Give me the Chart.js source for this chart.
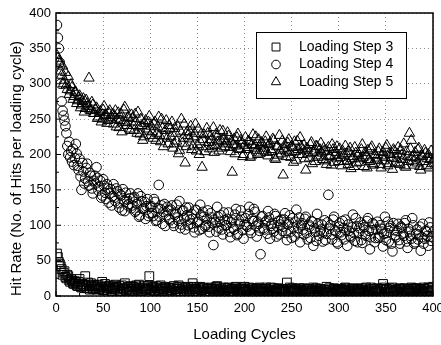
<!DOCTYPE html>
<html>
<head>
<meta charset="utf-8">
<title>Hit Rate vs Loading Cycles</title>
<script src="https://cdn.jsdelivr.net/npm/chart.js"></script>
<style>
  body { margin: 0; background: #fff; }
  canvas { display: block; }
</style>
</head>
<body>
<canvas id="hit-rate-chart" width="441" height="345"></canvas>
<script>
// hit rates, one value per loading cycle (1 ... 400), 20 cycles per row
const firstCycle = 1;
const cycleStep = 1;

const step3 = [
    60, 55, 48, 45, 42, 38, 30, 33, 35, 27, 25, 30, 28, 22, 20, 24, 22, 18, 17, 21,
    19, 15, 14, 20, 24, 13, 12, 17, 16, 11, 28, 14, 11, 19, 15, 9, 18, 13, 10, 16,
    14, 11, 9, 15, 16, 10, 12, 13, 20, 8, 8, 17, 13, 9, 11, 14, 15, 10, 7, 12,
    12, 9, 16, 13, 9, 11, 14, 7, 6, 15, 11, 10, 18, 8, 8, 12, 13, 6, 10, 14,
    7, 13, 12, 8, 15, 10, 9, 16, 11, 7, 6, 12, 14, 9, 8, 11, 10, 14, 28, 8,
    9, 11, 13, 7, 6, 14, 11, 9, 8, 12, 15, 6, 10, 10, 7, 13, 12, 8, 5, 11,
    11, 8, 8, 12, 14, 6, 6, 10, 10, 15, 13, 7, 7, 11, 9, 5, 12, 9, 5, 13,
    9, 7, 12, 10, 18, 13, 7, 9, 10, 5, 6, 11, 13, 8, 8, 12, 11, 6, 5, 10,
    10, 6, 7, 11, 12, 8, 5, 10, 9, 13, 14, 7, 6, 9, 11, 5, 8, 12, 4, 8,
    9, 11, 12, 7, 6, 9, 10, 5, 7, 12, 13, 8, 5, 10, 8, 6, 11, 9, 6, 13,
    10, 6, 7, 9, 12, 8, 4, 11, 9, 5, 6, 10, 11, 7, 8, 12, 5, 9, 10, 6,
    7, 10, 12, 6, 5, 8, 9, 12, 6, 7, 11, 5, 8, 9, 4, 11, 10, 6, 7, 8,
    9, 5, 6, 10, 19, 7, 8, 12, 5, 9, 11, 6, 7, 8, 10, 4, 4, 11, 9, 7,
    6, 8, 11, 5, 8, 10, 5, 7, 10, 4, 7, 9, 12, 6, 4, 11, 9, 7, 6, 10,
    10, 7, 5, 9, 8, 4, 13, 6, 6, 11, 9, 5, 4, 8, 11, 10, 7, 6, 8, 9,
    5, 9, 10, 6, 7, 11, 12, 8, 4, 7, 9, 5, 6, 10, 11, 7, 8, 4, 5, 9,
    10, 7, 6, 11, 9, 5, 4, 9, 12, 6, 7, 8, 5, 12, 10, 4, 8, 10, 6, 7,
    11, 8, 5, 10, 9, 6, 17, 12, 6, 9, 10, 5, 4, 11, 8, 7, 12, 6, 7, 9,
    9, 6, 5, 10, 11, 8, 6, 4, 8, 11, 4, 7, 10, 9, 7, 5, 12, 8, 5, 11,
    8, 10, 11, 7, 6, 9, 9, 5, 4, 12, 10, 6, 7, 8, 12, 11, 5, 7, 9, 13
];

const step4 = [
    383, 365, 350, 330, 300, 275, 262, 255, 248, 240, 230, 212, 200, 218, 196, 205, 190, 208, 185, 195,
    215, 201, 184, 178, 194, 169, 150, 188, 176, 159, 166, 181, 187, 162, 156, 174, 170, 152, 145, 163,
    170, 159, 182, 167, 149, 155, 163, 139, 142, 165, 156, 146, 137, 158, 152, 132, 145, 151, 128, 141,
    158, 139, 134, 152, 148, 131, 125, 144, 142, 121, 151, 135, 120, 146, 137, 128, 130, 138, 145, 124,
    128, 138, 140, 119, 121, 130, 145, 112, 114, 141, 134, 123, 124, 133, 109, 127, 137, 113, 117, 126,
    127, 117, 113, 137, 133, 106, 107, 124, 157, 112, 123, 128, 102, 119, 130, 99, 114, 126, 121, 109,
    107, 122, 128, 103, 99, 115, 118, 129, 111, 106, 134, 96, 101, 120, 121, 110, 94, 125, 114, 100,
    125, 108, 102, 116, 109, 97, 90, 122, 121, 104, 105, 93, 129, 114, 95, 119, 112, 98, 100, 109,
    121, 98, 90, 117, 111, 103, 72, 108, 104, 91, 126, 112, 96, 105, 114, 94, 87, 118, 107, 100,
    100, 109, 118, 91, 83, 104, 108, 97, 94, 115, 123, 86, 88, 107, 102, 121, 112, 93, 81, 101,
    110, 100, 98, 116, 126, 93, 89, 109, 106, 123, 119, 99, 84, 105, 102, 92, 59, 112, 113, 96,
    94, 104, 106, 88, 120, 111, 81, 99, 102, 95, 91, 116, 113, 84, 98, 106, 87, 101, 108, 92,
    98, 108, 117, 89, 79, 101, 104, 114, 91, 82, 110, 97, 84, 105, 122, 90, 96, 111, 76, 100,
    103, 94, 87, 109, 112, 89, 80, 101, 98, 82, 106, 105, 71, 96, 91, 78, 116, 102, 85, 92,
    94, 101, 77, 90, 107, 79, 88, 104, 143, 95, 100, 87, 80, 108, 112, 93, 91, 76, 74, 98,
    103, 90, 86, 106, 96, 80, 108, 93, 71, 101, 92, 85, 83, 97, 115, 89, 78, 110, 99, 76,
    89, 96, 104, 79, 75, 100, 97, 87, 85, 106, 110, 92, 66, 83, 93, 103, 101, 76, 82, 94,
    105, 82, 84, 100, 95, 91, 70, 88, 112, 79, 89, 105, 77, 96, 99, 74, 63, 103, 93, 86,
    83, 92, 102, 79, 74, 98, 96, 88, 85, 103, 107, 77, 68, 95, 91, 85, 81, 110, 100, 74,
    76, 88, 94, 80, 87, 98, 64, 83, 102, 74, 81, 92, 91, 85, 71, 104, 97, 78, 84, 90
];

const step5 = [
    340, 336, 332, 328, 318, 312, 325, 300, 305, 316, 298, 292, 310, 285, 290, 299, 295, 278, 282, 288,
    288, 272, 276, 281, 283, 266, 270, 275, 279, 260, 265, 277, 272, 268, 308, 263, 262, 274, 270, 258,
    258, 264, 266, 251, 253, 259, 261, 246, 250, 263, 268, 255, 256, 244, 248, 259, 262, 250, 252, 257,
    243, 255, 262, 239, 250, 259, 238, 248, 257, 232, 246, 263, 267, 245, 241, 252, 253, 236, 234, 256,
    251, 241, 234, 257, 246, 230, 260, 239, 229, 250, 241, 220, 225, 244, 248, 236, 233, 246, 254, 227,
    240, 232, 223, 243, 246, 220, 230, 239, 253, 227, 218, 250, 237, 211, 226, 234, 248, 223, 215, 241,
    236, 225, 246, 209, 215, 237, 230, 219, 240, 201, 206, 233, 250, 216, 223, 243, 188, 211, 232, 227,
    222, 232, 240, 207, 212, 225, 230, 243, 205, 214, 236, 200, 218, 229, 182, 221, 228, 204, 211, 237,
    230, 217, 208, 226, 221, 212, 238, 203, 213, 229, 225, 218, 205, 234, 220, 209, 233, 222, 211, 215,
    218, 231, 226, 210, 204, 219, 175, 214, 222, 201, 212, 224, 229, 208, 207, 220, 216, 197, 200, 213,
    224, 207, 210, 219, 218, 196, 198, 214, 228, 209, 213, 225, 206, 200, 221, 212, 202, 217, 215, 205,
    209, 218, 225, 203, 198, 214, 216, 207, 204, 222, 220, 195, 193, 211, 212, 199, 227, 206, 201, 219,
    171, 208, 214, 197, 205, 216, 221, 203, 196, 212, 210, 189, 218, 204, 192, 219, 207, 200, 224, 211,
    200, 206, 213, 194, 178, 209, 208, 201, 195, 214, 217, 187, 203, 205, 190, 212, 211, 196, 198, 207,
    216, 202, 193, 209, 205, 191, 186, 204, 210, 197, 198, 185, 214, 207, 189, 199, 203, 211, 195, 190,
    208, 196, 184, 205, 199, 190, 212, 201, 191, 186, 204, 209, 180, 194, 197, 183, 210, 202, 188, 198,
    201, 189, 194, 207, 214, 196, 183, 203, 198, 181, 206, 193, 190, 208, 211, 187, 185, 200, 199, 195,
    192, 204, 208, 186, 181, 198, 203, 191, 196, 209, 213, 184, 187, 202, 200, 195, 179, 207, 205, 188,
    194, 201, 210, 188, 186, 206, 199, 193, 215, 184, 182, 204, 197, 190, 230, 208, 220, 196, 191, 185,
    203, 195, 188, 207, 209, 183, 178, 199, 197, 190, 206, 202, 184, 194, 200, 181, 193, 205, 187, 192
];

const seriesLabels = ["Loading Step 3", "Loading Step 4", "Loading Step 5"];
const seriesMarkers = ["rect", "circle", "triangle"];
const markerRadius = [6.2, 4.8, 6];

const axisMin = 0;
const axisMax = 400;
const majorStep = 50;
const minorStep = 25;

const fontFamily = "'Liberation Sans', Arial, Helvetica, sans-serif";

function toPoints(values) {
    return values.map(function (y, i) {
        return { x: firstCycle + i * cycleStep, y: y };
    });
}

// small inward ticks plus the solid box round the plot
const plotFrame = {
    id: 'plotFrame',
    afterDatasetsDraw: function (chart) {
        const ctx = chart.ctx;
        const a = chart.chartArea;
        const xs = chart.scales.x;
        const ys = chart.scales.y;
        ctx.save();
        ctx.strokeStyle = '#000';
        ctx.lineWidth = 1;
        ctx.beginPath();
        for (let v = axisMin; v <= axisMax; v += minorStep) {
            const len = v % majorStep === 0 ? 5 : 3;
            const px = xs.getPixelForValue(v);
            ctx.moveTo(px, a.bottom);
            ctx.lineTo(px, a.bottom - len);
            const py = ys.getPixelForValue(v);
            ctx.moveTo(a.left, py);
            ctx.lineTo(a.left + len, py);
        }
        ctx.stroke();
        ctx.lineWidth = 1.5;
        ctx.strokeRect(a.left, a.top, a.right - a.left, a.bottom - a.top);
        ctx.restore();
    }
};

// legend in a box at the top right of the plot
const boxedLegend = {
    id: 'boxedLegend',
    afterDraw: function (chart) {
        const ctx = chart.ctx;
        const a = chart.chartArea;
        const left = a.right - 177;
        const top = a.top + 19;
        const w = 150;
        const h = 66;
        ctx.save();
        ctx.fillStyle = '#fff';
        ctx.fillRect(left, top, w, h);
        ctx.strokeStyle = '#000';
        ctx.lineWidth = 1;
        ctx.strokeRect(left + 0.5, top + 0.5, w, h);
        ctx.font = '14px ' + fontFamily;
        ctx.textBaseline = 'middle';
        chart.data.datasets.forEach(function (ds, i) {
            const y = top + 15 + i * 17.5;
            ctx.fillStyle = 'rgba(0,0,0,0)';
            ctx.strokeStyle = '#000';
            ctx.lineWidth = 1;
            Chart.helpers.drawPoint(ctx, {
                pointStyle: ds.pointStyle,
                radius: ds.pointRadius * 0.9,
                rotation: 0,
                borderWidth: 1
            }, left + 20, y);
            ctx.fillStyle = '#000';
            ctx.fillText(ds.label, left + 43, y);
        });
        ctx.restore();
    }
};

const allSeries = [step3, step4, step5];

new Chart(document.getElementById("hit-rate-chart"), {
    type: 'scatter',
    data: {
        datasets: allSeries.map(function (values, i) {
            return {
                label: seriesLabels[i],
                data: toPoints(values),
                pointStyle: seriesMarkers[i],
                pointRadius: markerRadius[i],
                pointBorderWidth: 1,
                borderColor: '#000',
                backgroundColor: 'rgba(0,0,0,0)',
                showLine: false
            };
        })
    },
    options: {
        responsive: false,
        animation: false,
        devicePixelRatio: 1,
        layout: {
            padding: { top: 13, right: 8, left: 0, bottom: 0 }
        },
        plugins: {
            legend: { display: false },
            tooltip: { enabled: false }
        },
        scales: {
            x: {
                type: 'linear',
                min: axisMin,
                max: axisMax,
                border: { display: false, dash: [1, 3] },
                grid: {
                    color: '#8c8c8c',
                    drawTicks: false,
                    lineWidth: 1
                },
                ticks: {
                    stepSize: majorStep,
                    maxRotation: 0,
                    autoSkip: false,
                    padding: 5,
                    color: '#000',
                    font: { family: fontFamily, size: 13 }
                },
                title: {
                    display: true,
                    text: 'Loading Cycles',
                    color: '#000',
                    padding: { top: 0, bottom: 1 },
                    font: { family: fontFamily, size: 15 }
                },
                afterFit: function (s) {
                    s.height = 49;
                    s.paddingLeft = 0;
                    s.paddingRight = 0;
                }
            },
            y: {
                type: 'linear',
                min: axisMin,
                max: axisMax,
                border: { display: false, dash: [1, 3] },
                grid: {
                    color: '#8c8c8c',
                    drawTicks: false,
                    lineWidth: 1
                },
                ticks: {
                    stepSize: majorStep,
                    autoSkip: false,
                    padding: 5,
                    color: '#000',
                    font: { family: fontFamily, size: 13 }
                },
                title: {
                    display: true,
                    text: 'Hit Rate (No. of Hits per loading cycle)',
                    align: 'start',
                    color: '#000',
                    padding: { top: 8, bottom: 0 },
                    font: { family: fontFamily, size: 15 }
                },
                afterFit: function (s) {
                    s.width = 56;
                    s.paddingTop = 0;
                    s.paddingBottom = 0;
                }
            }
        }
    },
    plugins: [plotFrame, boxedLegend]
});
</script>
</body>
</html>
